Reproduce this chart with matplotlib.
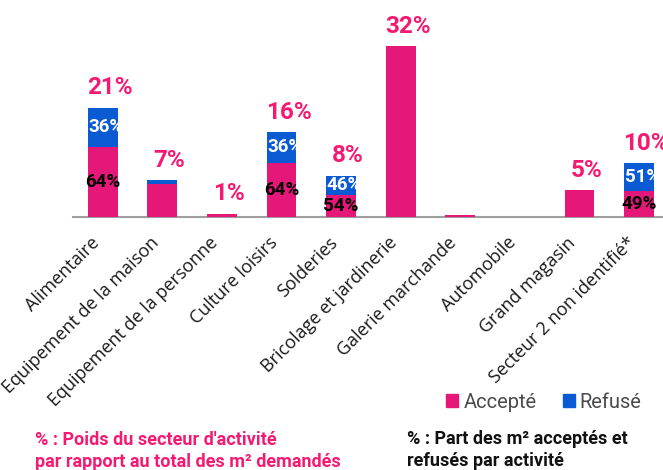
import numpy as np
import matplotlib.pyplot as plt
from matplotlib.patches import Patch

# données
categories = ['Alimentaire', 'Equipement de la maison', 'Equipement de la personne',
              'Culture loisirs', 'Solderies', 'Bricolage et jardinerie',
              'Galerie marchande', 'Automobile', 'Grand magasin',
              'Secteur 2 non identifié*']
poids = [20.6, 6.9, 0.6, 16.0, 7.8, 32.2, 0.4, 0.0, 5.0, 10.1]   # % des m² demandés
part_refuse = [36, 10, 0, 36, 46, 0, 0, 0, 0, 51]                # % refusé dans le secteur
poids_labels = ['21%', '7%', '1%', '16%', '8%', '32%', '', '', '5%', '10%']
accepte_labels = ['64%', '', '', '64%', '54%', '', '', '', '', '49%']
refuse_labels = ['36%', '', '', '36%', '46%', '', '', '', '', '51%']

PINK = '#E5187A'
PINK_TXT = '#F41A72'
BLUE = '#0A5BD3'

poids = np.array(poids)
refuse = poids * np.array(part_refuse) / 100
accepte = poids - refuse
x = np.arange(len(categories))

fig = plt.figure(figsize=(6.63, 4.70), dpi=100)
ax = fig.add_axes([73/663, 1 - 217/470, 590/663, 207/470])

ax.bar(x, accepte, width=0.5, color=PINK, zorder=3)
ax.bar(x, refuse, width=0.5, bottom=accepte, color=BLUE, zorder=3)

ax.set_xlim(-0.5, 9.4)
ax.set_ylim(0, 39)

for i in range(len(x)):
    if poids_labels[i]:
        ax.annotate(poids_labels[i], (x[i], poids[i]), xytext=(5, 6),
                    textcoords='offset points', ha='center', va='bottom',
                    color=PINK_TXT, fontsize=17.5, fontweight='bold',
                    family='Roboto', annotation_clip=False)
    if accepte_labels[i]:
        ax.text(x[i], accepte[i] / 2, accepte_labels[i], ha='center', va='center',
                color='black', fontsize=13.5, fontweight='bold', family='Roboto',
                zorder=4)
    if refuse_labels[i]:
        ax.text(x[i] + 0.05, accepte[i] + refuse[i] / 2, refuse_labels[i],
                ha='center', va='center', color='white', fontsize=13.5,
                fontweight='bold', family='Roboto', zorder=4)

for s in ['top', 'right', 'left']:
    ax.spines[s].set_visible(False)
ax.spines['bottom'].set_color('#9E9E9E')
ax.spines['bottom'].set_linewidth(1.5)
ax.set_yticks([])
ax.set_xticks(x)
ax.set_xticklabels(categories, rotation=45, ha='right', fontsize=13,
                   family='Open Sans', color='#1A1A1A')
ax.tick_params(axis='x', length=0, pad=12)

handles = [Patch(color=PINK), Patch(color=BLUE)]
leg = fig.legend(handles, ['Accepté', 'Refusé'], loc='center',
                 bbox_to_anchor=(544/663, 1 - 402/470), ncol=2, frameon=False,
                 handlelength=0.6, handleheight=0.6, handletextpad=0.25,
                 columnspacing=1.3, prop={'family': 'Roboto', 'size': 14.5})
for t in leg.get_texts():
    t.set_color('#4A4A4A')

fig.text(35/663, 1 - 451/470, "% : Poids du secteur d'activité\npar rapport au total des m² demandés",
         ha='left', va='center', color=PINK_TXT, fontsize=13, fontweight='bold',
         family='Roboto', linespacing=1.35)
fig.text(407/663, 1 - 450/470, '% : Part des m² acceptés et\nrefusés par activité',
         ha='left', va='center', color='#111111', fontsize=13, fontweight='bold',
         family='Roboto', linespacing=1.35)

fig.savefig('out.png', dpi=100)
